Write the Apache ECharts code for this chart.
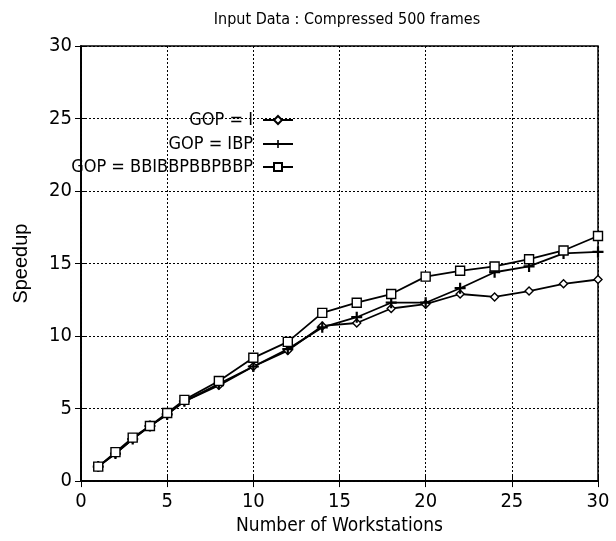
<!DOCTYPE html>
<html>
<head>
<meta charset="utf-8">
<script src="https://cdn.jsdelivr.net/npm/echarts@6/dist/echarts.min.js"></script>
<style>
  html, body { margin: 0; padding: 0; background: #fff; }
  #main { width: 616px; height: 541px; }
</style>
</head>
<body>
<div id="main"></div>
<script>
// workstations on the x axis
const workstations = [1, 2, 3, 4, 5, 6, 8, 10, 12, 14, 16, 18, 20, 22, 24, 26, 28, 30]
// speedup per GOP type
const gopI = [1.0, 1.9, 2.9, 3.8, 4.6, 5.5, 6.6, 7.9, 9.0, 10.7, 10.9, 11.9, 12.2, 12.9, 12.7, 13.1, 13.6, 13.9]
const gopIBP = [1.0, 1.9, 2.9, 3.8, 4.6, 5.5, 6.7, 7.9, 9.1, 10.6, 11.3, 12.3, 12.3, 13.3, 14.4, 14.8, 15.7, 15.8]
const gopBB = [1.0, 2.0, 3.0, 3.8, 4.7, 5.6, 6.9, 8.5, 9.6, 11.6, 12.3, 12.9, 14.1, 14.5, 14.8, 15.3, 15.9, 16.9]
const seriesNames = ['GOP = I', 'GOP = IBP', 'GOP = BBIBBPBBPBBP']

const pair = ys => workstations.map((x, i) => [x, ys[i]])

const font = '"Liberation Sans Narrow", "DejaVu Sans Condensed", "Liberation Sans", sans-serif'
const plusPath = 'path://M4,0h2v4h4v2h-4v4h-2v-4h-4v-2h4z'

var myChart = echarts.init(document.getElementById('main'))

const lineSeries = (name, data, symbol, size) => ({
  name: name,
  type: 'line',
  data: pair(data),
  symbol: symbol,
  symbolSize: size,
  showAllSymbol: true,
  lineStyle: { color: '#000', width: 1.8 },
  itemStyle: {
    color: symbol === plusPath ? '#000' : '#fff',
    borderColor: '#000',
    borderWidth: symbol === plusPath ? 0 : 1.4
  },
  emphasis: { disabled: true },
  animation: false
})

// one legend per entry so every icon lines up on the right
const legendAt = (name, top) => ({
  data: [name],
  right: 322,
  top: top,
  align: 'right',
  padding: 0,
  itemWidth: 30,
  itemHeight: 10,
  textStyle: { fontFamily: font, fontSize: 18, color: '#000', padding: [0, 5, 0, 0] }
})

var option = {
  backgroundColor: '#fff',
  title: {
    text: 'Input Data : Compressed 500 frames',
    left: 342,
    textAlign: 'center',
    top: 7,
    textStyle: { fontFamily: font, fontSize: 16, fontWeight: 'normal', color: '#000' }
  },
  legend: [
    legendAt(seriesNames[0], 111),
    legendAt(seriesNames[1], 135),
    legendAt(seriesNames[2], 158)
  ],
  grid: {
    left: 81,
    right: 18,
    top: 46,
    bottom: 58,
    show: true,
    borderColor: '#000',
    borderWidth: 1.5
  },
  xAxis: [
    {
      type: 'value',
      min: 0,
      max: 30,
      interval: 5,
      name: 'Number of Workstations',
      nameLocation: 'middle',
      nameGap: 31,
      nameTextStyle: { fontFamily: font, fontSize: 19, color: '#000' },
      axisLine: { show: true, lineStyle: { color: '#000', width: 1.5 } },
      axisTick: { inside: true, length: 6, lineStyle: { color: '#000' } },
      axisLabel: { fontFamily: font, fontSize: 20, color: '#000', margin: 11 },
      splitLine: { show: true, lineStyle: { color: '#000', type: [2, 2], width: 1 } }
    },
    {
      type: 'value',
      position: 'top',
      min: 0,
      max: 30,
      interval: 5,
      axisLine: { show: true, lineStyle: { color: '#000', width: 1.5 } },
      axisTick: { inside: true, length: 6, lineStyle: { color: '#000' } },
      axisLabel: { show: false },
      splitLine: { show: false }
    }
  ],
  yAxis: [
    {
      type: 'value',
      min: 0,
      max: 30,
      interval: 5,
      name: 'Speedup',
      nameLocation: 'middle',
      nameGap: 50,
      nameTextStyle: { fontFamily: '"Liberation Sans", sans-serif', fontSize: 20, color: '#000' },
      axisLine: { show: true, lineStyle: { color: '#000', width: 1.5 } },
      axisTick: { inside: true, length: 6, lineStyle: { color: '#000' } },
      axisLabel: { fontFamily: font, fontSize: 20, color: '#000', margin: 9 },
      splitLine: { show: true, lineStyle: { color: '#000', type: [2, 2], width: 1 } }
    },
    {
      type: 'value',
      position: 'right',
      min: 0,
      max: 30,
      interval: 5,
      axisLine: { show: true, lineStyle: { color: '#000', width: 1.5 } },
      axisTick: { inside: true, length: 6, lineStyle: { color: '#000' } },
      axisLabel: { show: false },
      splitLine: { show: false }
    }
  ],
  series: [
    lineSeries(seriesNames[0], gopI, 'diamond', 8),
    lineSeries(seriesNames[1], gopIBP, plusPath, 11),
    lineSeries(seriesNames[2], gopBB, 'rect', 9)
  ]
}

myChart.setOption(option)
</script>
</body>
</html>
